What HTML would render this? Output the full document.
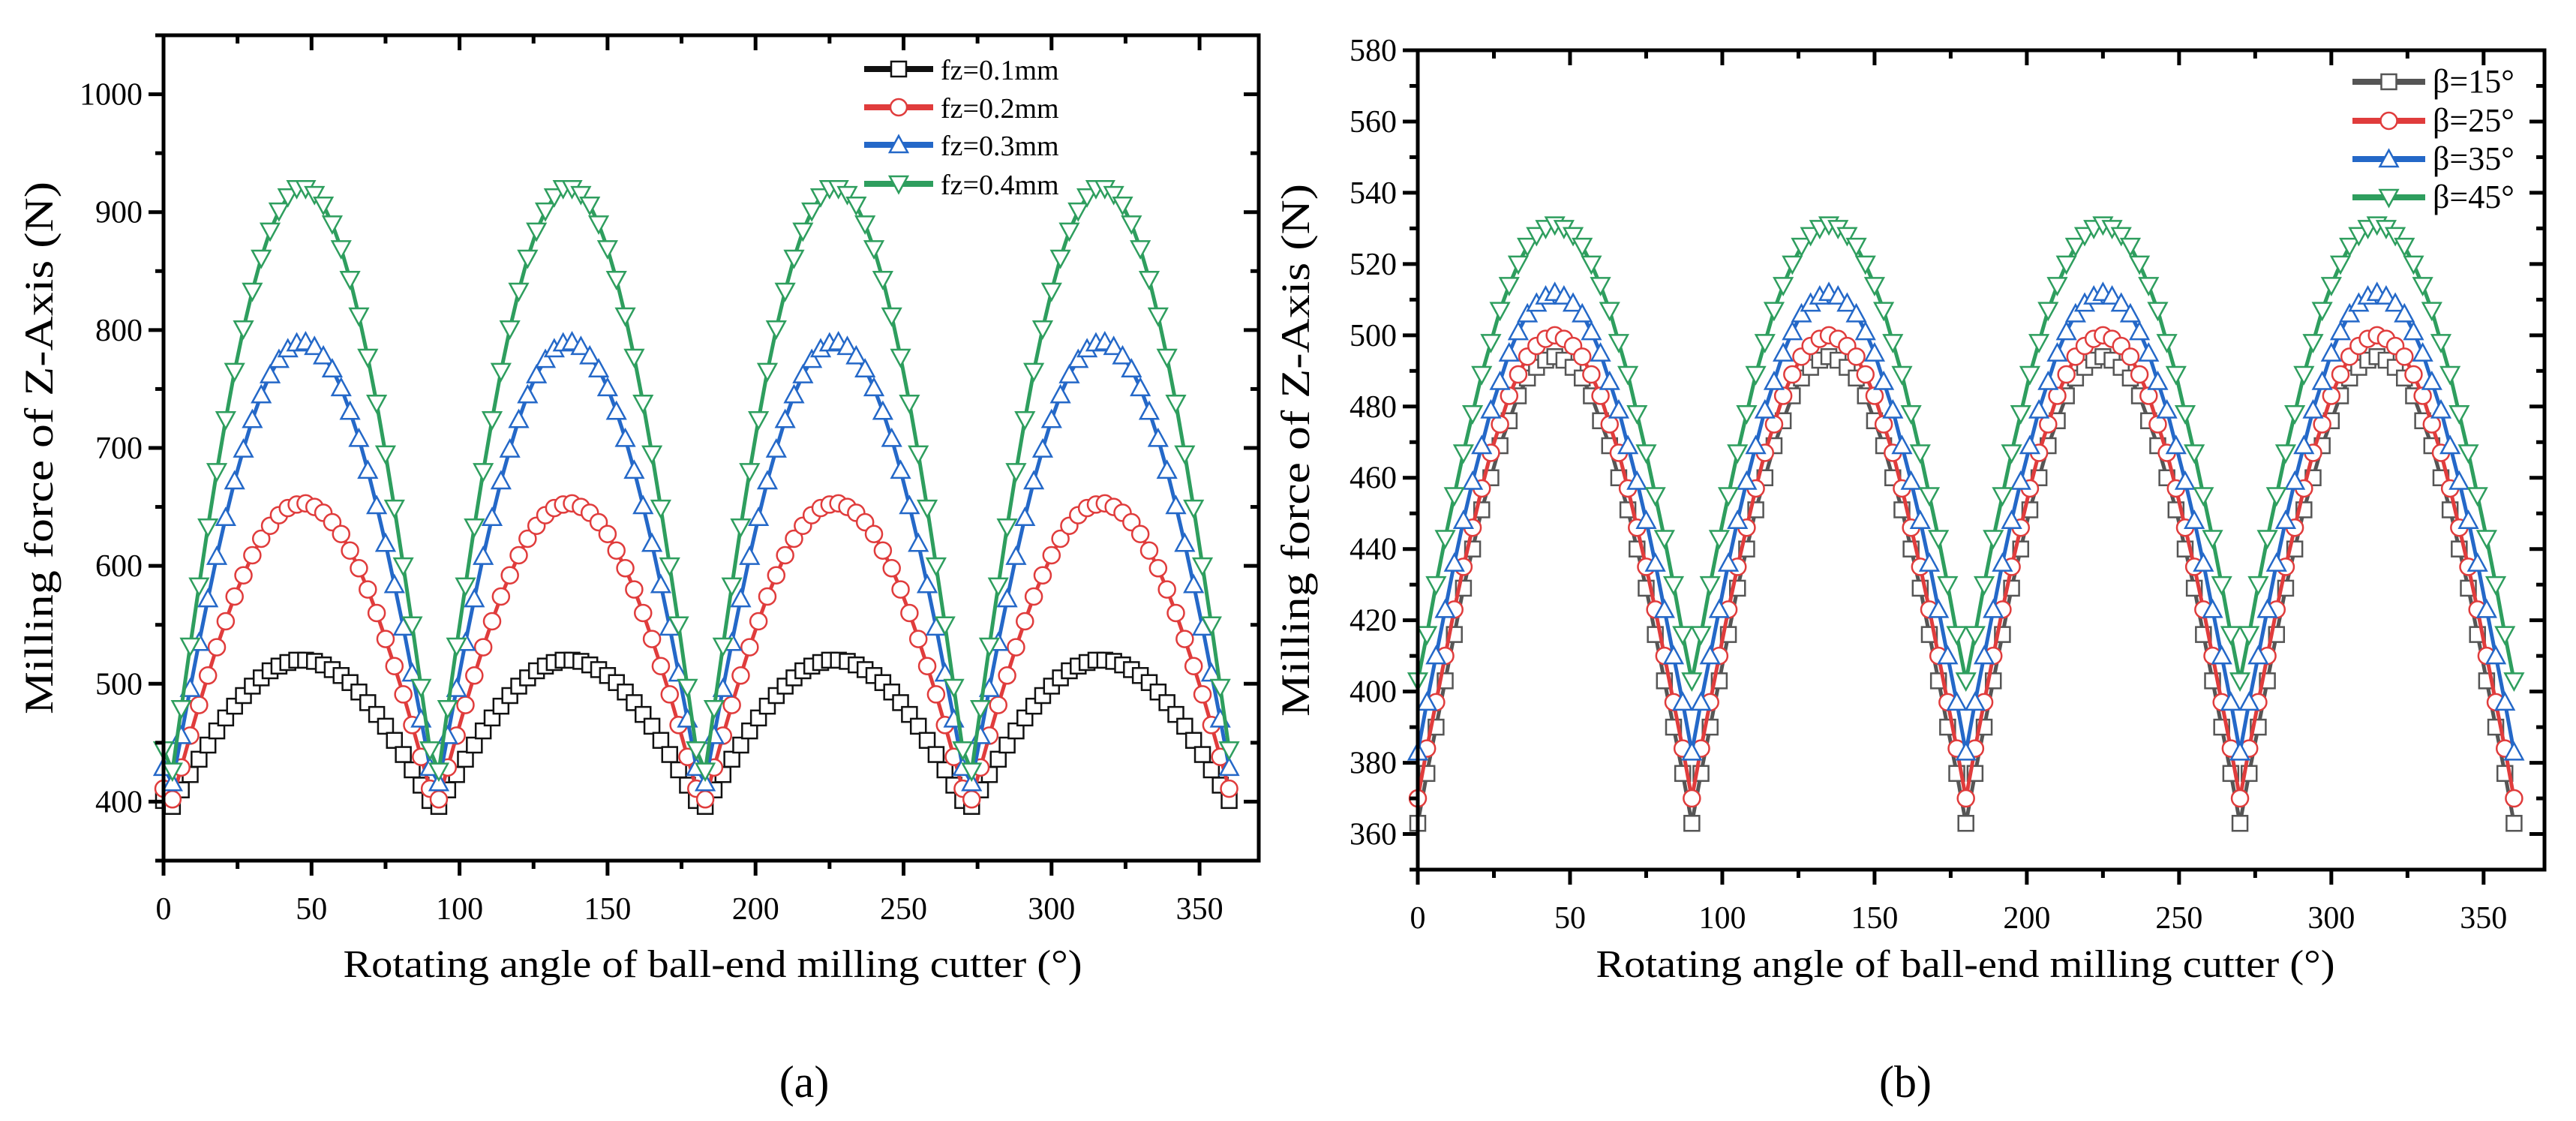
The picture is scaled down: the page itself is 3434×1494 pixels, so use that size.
<!DOCTYPE html>
<html><head><meta charset="utf-8"><style>
body{margin:0;background:#fff}
svg{display:block}
text{font-family:"Liberation Serif",serif;fill:#000}
</style></head><body>
<svg id="c" width="3434" height="1494" viewBox="0 0 3434 1494">
<text x="1072" y="1462" font-size="60" text-anchor="middle" font-family="Liberation Sans">(a)</text>
<text x="2540" y="1462" font-size="60" text-anchor="middle" font-family="Liberation Sans">(b)</text>
</svg>
<script>
// shared angle samples for one 90° cycle (curves repeat every 90°)
const anglesCycle = [0,3,6,9,12,15,18,21,24,27,30,33,36,39,42,45,48,51,54,57,60,63,66,69,72,75,78,81,84,87,90];
const cycles = [0,90,180,270];
// panel (a)
const aNames = ["fz=0.1mm","fz=0.2mm","fz=0.3mm","fz=0.4mm"];
const aFz01 = [401,396,410,423,436,448,460,471,481,490,498,505,511,515,518,520,520,519,516,512,507,501,493,484,474,464,452,440,427,414,401];
const aFz02 = [411,402,429,456,482,507,531,553,574,592,609,623,634,643,649,652,653,650,645,637,627,613,598,580,560,538,515,491,465,438,411];
const aFz03 = [429,416,456,496,535,572,608,641,672,699,724,745,762,775,784,789,790,786,778,767,751,731,708,681,651,619,584,548,509,470,429];
const aFz04 = [444,426,479,532,583,633,680,724,765,801,833,861,884,901,913,920,920,915,906,890,869,843,812,777,738,695,649,600,550,497,444];
const aYTicks = [400,500,600,700,800,900,1000];
// panel (b)
const bNames = ["β=15°","β=25°","β=35°","β=45°"];
const bB15 = [363,377,390,403,416,429,440,451,460,469,476,483,488,491,493,494,493,491,488,483,476,469,460,451,440,429,416,403,390,377,363];
const bB25 = [370,384,397,410,423,435,446,457,467,475,483,489,494,497,499,500,499,497,494,489,483,475,467,457,446,435,423,410,397,384,370];
const bB35 = [383,397,410,423,436,448,459,469,479,487,495,501,506,509,511,512,511,509,506,501,495,487,479,469,459,448,436,423,410,397,383];
const bB45 = [403,416,430,443,455,467,478,489,498,507,514,520,525,528,530,531,530,528,525,520,514,507,498,489,478,467,455,443,430,416,403];
const bYTicks = [360,380,400,420,440,460,480,500,520,540,560,580];
const xTicks = [0,50,100,150,200,250,300,350];

const NS="http://www.w3.org/2000/svg";
const svg=document.getElementById('c');
function mk(tag,attrs,parent){const e=document.createElementNS(NS,tag);for(const k in attrs)e.setAttribute(k,attrs[k]);(parent||svg).appendChild(e);return e;}

function panel(cfg){
  const g=mk('g',{});
  
  
  const X=v=>cfg.x0+(v-0)/(370)*(cfg.x1-cfg.x0);
  const Y=v=>cfg.y1-(v-cfg.ymin)/(cfg.ymax-cfg.ymin)*(cfg.y1-cfg.y0);
  // series
  cfg.series.forEach((s,si)=>{
    const sg=mk('g',{},g);
    
    
    let pts=[];
    cycles.forEach((c,ci)=>{anglesCycle.forEach((a,i)=>{if(ci>0&&i===0)return;pts.push([X(a+c),Y(s.vals[i])]);});});
    const ln=mk('polyline',{points:pts.map(p=>p.join(',')).join(' '),fill:'none',stroke:s.color,'stroke-width':cfg.lw},sg);
    
    
    pts.forEach(p=>{const m=marker(s.shape,p[0],p[1],s.color,sg);
      
      });
  });
  // frame
  const fr=mk('rect',{x:cfg.x0,y:cfg.y0,width:cfg.x1-cfg.x0,height:cfg.y1-cfg.y0,fill:'none',stroke:'#000','stroke-width':5},g);
  
  
  // x ticks
  for(let v=0;v<=370;v+=25){const major=v%50===0;const x=X(v);
    mk('line',{x1:x,x2:x,y1:cfg.y1,y2:cfg.y1+(major?20:11),stroke:'#000','stroke-width':5},g);
    mk('line',{x1:x,x2:x,y1:cfg.y0,y2:cfg.y0+(major?20:11),stroke:'#000','stroke-width':5},g);}
  xTicks.forEach(v=>{const t=mk('text',{x:X(v),y:cfg.y1+78,'font-size':42,'text-anchor':'middle'},g);t.textContent=v;
    
    });
  // y ticks
  const step=cfg.yt[1]-cfg.yt[0];
  for(let v=cfg.ymin;v<=cfg.ymax+0.01;v+=step/2){const major=Math.abs(((v-cfg.yt[0])/step)-Math.round((v-cfg.yt[0])/step))<0.01;const y=Y(v);
    mk('line',{x1:cfg.x0,x2:cfg.x0-(major?20:11),y1:y,y2:y,stroke:'#000','stroke-width':5},g);
    mk('line',{x1:cfg.x1,x2:cfg.x1-(major?20:11),y1:y,y2:y,stroke:'#000','stroke-width':5},g);}
  cfg.yt.forEach(v=>{const t=mk('text',{x:cfg.x0-28,y:Y(v)+14,'font-size':42,'text-anchor':'end'},g);t.textContent=v;
    
    });
  const xt=mk('text',{x:cfg.xtx,y:1302,'font-size':52,'text-anchor':'middle',textLength:cfg.xtw,lengthAdjust:'spacingAndGlyphs'},g);
  xt.textContent='Rotating angle of ball-end milling cutter (°)';
  
  
  const yt=mk('text',{x:0,y:0,'font-size':54,'text-anchor':'middle',textLength:cfg.ytw,lengthAdjust:'spacingAndGlyphs',transform:`translate(${cfg.ytx},${cfg.yty}) rotate(-90)`},g);
  yt.textContent='Milling force of Z-Axis (N)';
  
  
  // legend
  cfg.series.forEach((s,si)=>{const y=cfg.ly[si];
    const lg=mk('g',{},g);
    
    
    mk('line',{x1:cfg.lx0,x2:cfg.lx1,y1:y,y2:y,stroke:s.color,'stroke-width':8},lg);
    marker(s.shape,(cfg.lx0+cfg.lx1)/2,y,s.color,lg);
    const t=mk('text',{x:cfg.lx1+10,y:y+14,'font-size':cfg.lfs},lg);t.textContent=cfg.names[si];});
}
function marker(shape,x,y,color,parent){
  const a={fill:'#fff',stroke:color,'stroke-width':2.5};
  if(shape==='s')return mk('rect',Object.assign({x:x-10,y:y-10,width:20,height:20},a),parent);
  if(shape==='c')return mk('circle',Object.assign({cx:x,cy:y,r:11},a),parent);
  if(shape==='u')return mk('polygon',Object.assign({points:`${x},${y-12} ${x-12},${y+10} ${x+12},${y+10}`},a),parent);
  return mk('polygon',Object.assign({points:`${x},${y+12} ${x-12},${y-10} ${x+12},${y-10}`},a),parent);
}
panel({id:'a',x0:218,x1:1678,y0:47,y1:1147,ymin:350,ymax:1050,yt:aYTicks,lw:5,
  xtx:950,xtw:985,ytx:70,yty:597,ytw:710,
  names:aNames,lx0:1152,lx1:1244,ly:[92,143,193,245],lfs:38,
  series:[{vals:aFz01,color:'#111',shape:'s'},{vals:aFz02,color:'#e03c3c',shape:'c'},{vals:aFz03,color:'#2468c8',shape:'u'},{vals:aFz04,color:'#2e9e5e',shape:'d'}]});
panel({id:'b',x0:1890,x1:3392,y0:67,y1:1159,ymin:350,ymax:580,yt:bYTicks,lw:5,
  xtx:2620,xtw:985,ytx:1745,yty:600,ytw:710,
  names:bNames,lx0:3136,lx1:3233,ly:[109,161,212,263],lfs:44,
  series:[{vals:bB15,color:'#555',shape:'s'},{vals:bB25,color:'#e03c3c',shape:'c'},{vals:bB35,color:'#2468c8',shape:'u'},{vals:bB45,color:'#2e9e5e',shape:'d'}]});
</script>
</body></html>
